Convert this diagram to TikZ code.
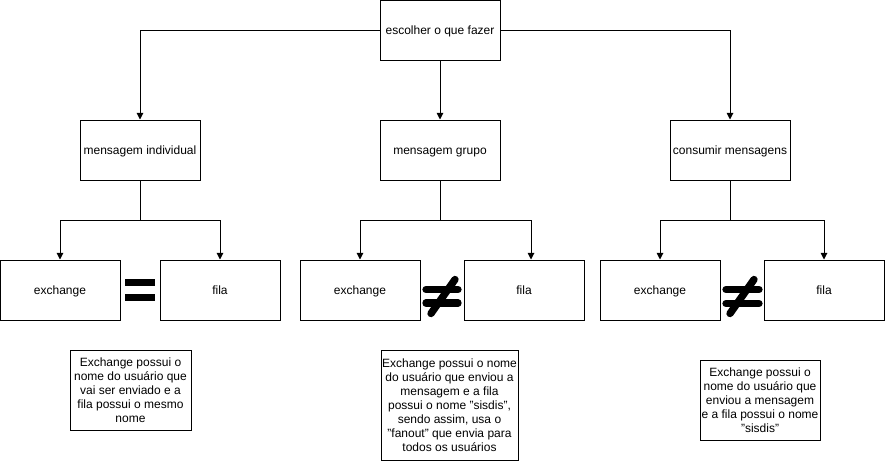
\documentclass[tikz,border=0pt]{standalone}
\usepackage{fontspec}
\setmainfont{Liberation Sans}
\usetikzlibrary{arrows.meta}
\begin{document}
\begin{tikzpicture}[x=0.75pt,y=-0.75pt,
  every node/.style={font=\fontsize{9}{10.5}\selectfont},
  box/.style={draw,line width=0.75pt,minimum width=90pt,minimum height=45pt,inner sep=0pt,align=center,text height=8pt,text depth=1pt},
  note/.style={draw,line width=0.75pt,inner sep=0pt,align=center},
  conn/.style={line width=0.75pt},
  arr/.style={conn,-{Triangle[length=5pt,width=5pt]}},
  sym/.style={line width=5.5pt,line cap=round}]
\useasboundingbox (0,0) rectangle (885,461);
\fill[white] (0,0) rectangle (885,461);
% top
\node[box] (top) at (440,30) {escolher o que fazer};
\node[box] (mi) at (140,150) {mensagem individual};
\node[box] (mg) at (440,150) {mensagem grupo};
\node[box] (cm) at (730,150) {consumir mensagens};
% bottom row
\node[box] (e1) at (60,290) {exchange};
\node[box] (f1) at (220,290) {fila};
\node[box] (e2) at (360,290) {exchange};
\node[box] (f2) at (524,290) {fila};
\node[box] (e3) at (660,290) {exchange};
\node[box] (f3) at (824,290) {fila};
% notes
\node[note,minimum width=90.75pt,minimum height=60pt] (n1) at (130.5,390)
  {Exchange possui o\\nome do usuário que\\vai ser enviado e a\\fila possui o mesmo\\nome};
\node[note,minimum width=102.75pt,minimum height=82.5pt] (n2) at (449.5,405)
  {Exchange possui o nome\\do usuário que enviou a\\mensagem e a fila\\possui o nome "sisdis",\\sendo assim, usa o\\"fanout" que envia para\\todos os usuários};
\node[note,minimum width=90pt,minimum height=60pt] (n3) at (760,400)
  {Exchange possui o\\nome do usuário que\\enviou a mensagem\\e a fila possui o nome\\"sisdis"};
% connectors from top
\draw[arr] (top.west) -| (mi.north);
\draw[arr] (top.south) -- (mg.north);
\draw[arr] (top.east) -| (cm.north);
% branches
\coordinate (b1) at (140,220);
\coordinate (b2) at (440,220);
\coordinate (b3) at (730,220);
\draw[conn] (mi.south) -- (b1);
\draw[arr] (b1) -| (e1.north);
\draw[arr] (b1) -| (f1.north);
\draw[conn] (mg.south) -- (b2);
\draw[arr] (b2) -| (e2.north);
\draw[arr] (b2) -| ([xshift=5.25pt]f2.north);
\draw[conn] (cm.south) -- (b3);
\draw[arr] (b3) -| (e3.north);
\draw[arr] (b3) -| (f3.north);
% equal sign
\fill (125,278.5) rectangle (155,285.5);
\fill (125,294) rectangle (155,301);
% not-equal signs
\draw[sym] (426,289.5) -- (458,289.5);
\draw[sym] (426,303) -- (458,303);
\draw[sym] (455,279.5) -- (431,313.5);
\draw[sym] (726,289.5) -- (759,289.5);
\draw[sym] (726,303.5) -- (759,303.5);
\draw[sym] (754,279.5) -- (730,313.5);
\end{tikzpicture}
\end{document}
